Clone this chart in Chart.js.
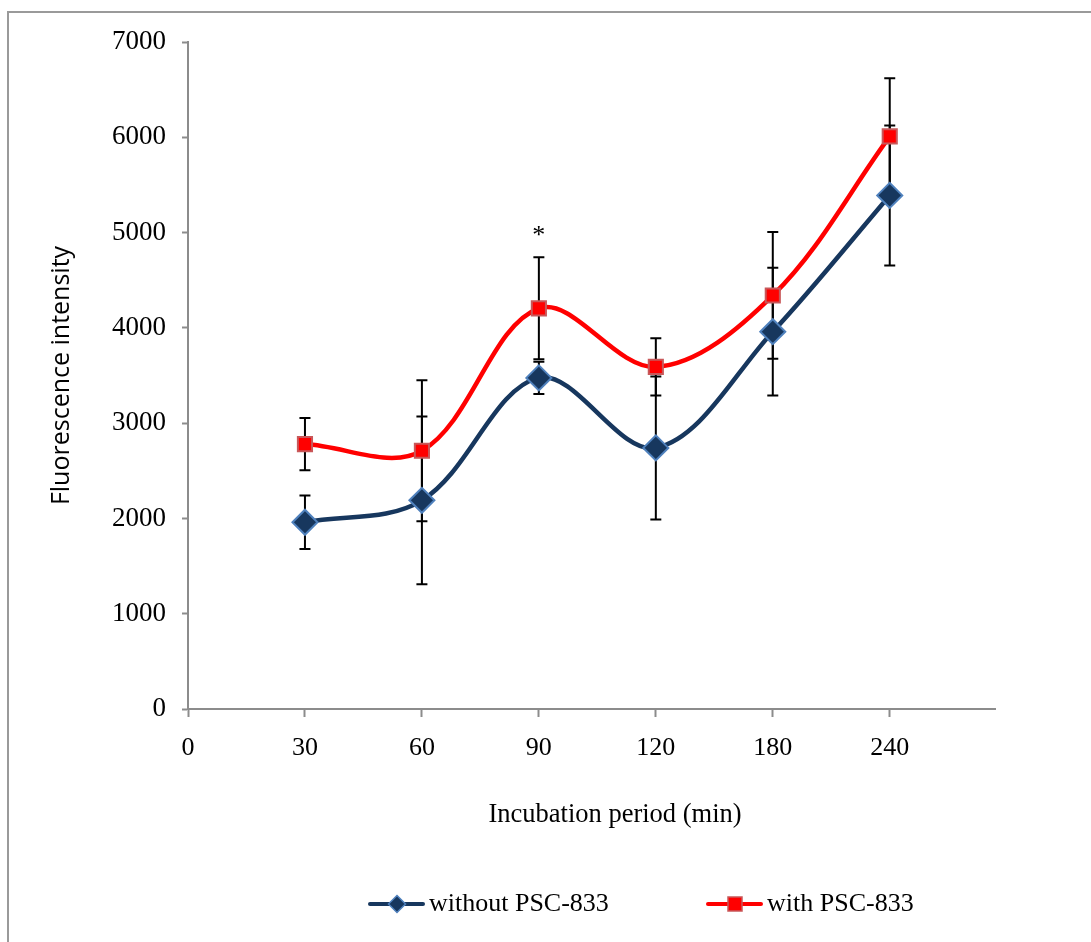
<!DOCTYPE html>
<html>
<head>
<meta charset="utf-8">
<script src="https://cdn.jsdelivr.net/npm/chart.js@4.4.0/dist/chart.umd.min.js"></script>
<style>
  html, body { margin: 0; padding: 0; background: #fff; }
  #wrap { position: relative; width: 1091px; height: 942px; overflow: hidden; }
  #frame { position: absolute; left: 7px; top: 11px; right: -4px; bottom: -4px; border-top: 2px solid #9a9a9a; border-left: 2px solid #9a9a9a; }
  canvas { position: absolute; left: 0; top: 0; }
</style>
</head>
<body>
<div id="wrap">
  <div id="frame"></div>
  <canvas id="chart" width="1091" height="942"></canvas>
</div>
<script>
// x tick labels (index = position on the axis)
const tickLabels = ['0', '30', '60', '90', '120', '180', '240'];
// incubation periods that have data
const periods = ['30', '60', '90', '120', '180', '240'];

const withoutPsc = [1960, 2190, 3475, 2740, 3960, 5390];
const withoutPscErr = [280, 880, 170, 750, 670, 735];
const withPsc = [2780, 2710, 4205, 3590, 4340, 6010];
const withPscErr = [275, 740, 535, 300, 665, 610];

// significance mark
const starPeriod = '90';
const starValue = 4965;

const serif = 'Liberation Serif';

function toPoints(values) {
  return values.map((v, i) => ({ x: tickLabels.indexOf(periods[i]), y: v }));
}

// Error bars, drawn under the lines and markers
const errorBarPlugin = {
  id: 'errorBars',
  beforeDatasetsDraw: (chart) => {
    const ctx = chart.ctx;
    const xScale = chart.scales.x;
    const yScale = chart.scales.y;
    ctx.save();
    ctx.strokeStyle = '#000';
    ctx.lineWidth = 2;
    chart.data.datasets.forEach(ds => {
      ds.data.forEach((pt, i) => {
        const err = ds.errors[i];
        const x = xScale.getPixelForValue(pt.x);
        const yTop = yScale.getPixelForValue(pt.y + err);
        const yBot = yScale.getPixelForValue(pt.y - err);
        ctx.beginPath();
        ctx.moveTo(x, yTop);
        ctx.lineTo(x, yBot);
        ctx.moveTo(x - 5.5, yTop);
        ctx.lineTo(x + 5.5, yTop);
        ctx.moveTo(x - 5.5, yBot);
        ctx.lineTo(x + 5.5, yBot);
        ctx.stroke();
      });
    });
    ctx.restore();
  }
};

// Asterisk, x axis title and the line+marker legend
const extrasPlugin = {
  id: 'extras',
  afterDraw: (chart) => {
    const ctx = chart.ctx;
    const xScale = chart.scales.x;
    const yScale = chart.scales.y;
    ctx.save();
    ctx.fillStyle = '#000';
    ctx.textAlign = 'center';
    ctx.textBaseline = 'middle';

    ctx.font = '26px "' + serif + '"';
    ctx.fillText('*', xScale.getPixelForValue(tickLabels.indexOf(starPeriod)), yScale.getPixelForValue(starValue));

    ctx.font = '26.5px "' + serif + '"';
    ctx.fillText('Incubation period (min)', 615, 815);

    // legend
    const legendX = [370, 708];
    const legendY = 904;
    chart.data.datasets.forEach((ds, i) => {
      const x0 = legendX[i];
      ctx.beginPath();
      ctx.strokeStyle = ds.borderColor;
      ctx.lineWidth = 4;
      ctx.lineCap = 'round';
      ctx.moveTo(x0, legendY);
      ctx.lineTo(x0 + 53, legendY);
      ctx.stroke();

      const cx = x0 + 27;
      ctx.beginPath();
      if (ds.pointStyle === 'rectRot') {
        const r = 8.5;
        ctx.moveTo(cx, legendY - r);
        ctx.lineTo(cx + r, legendY);
        ctx.lineTo(cx, legendY + r);
        ctx.lineTo(cx - r, legendY);
        ctx.closePath();
      } else {
        ctx.rect(cx - 7, legendY - 7, 14, 14);
      }
      ctx.fillStyle = ds.pointBackgroundColor;
      ctx.fill();
      ctx.lineWidth = 1.5;
      ctx.strokeStyle = ds.pointBorderColor;
      ctx.stroke();

      ctx.fillStyle = '#000';
      ctx.textAlign = 'left';
      ctx.font = '26px "' + serif + '"';
      ctx.fillText(ds.label, x0 + 59, legendY);
    });
    ctx.restore();
  }
};

const ctx = document.getElementById('chart').getContext('2d');
new Chart(ctx, {
  type: 'line',
  data: {
    datasets: [
      {
        label: 'without PSC-833',
        data: toPoints(withoutPsc),
        errors: withoutPscErr,
        borderColor: '#17375E',
        borderWidth: 4.5,
        tension: 0.35,
        fill: false,
        pointStyle: 'rectRot',
        pointRadius: 12.5,
        pointBackgroundColor: '#17375E',
        pointBorderColor: '#4F81BD',
        pointBorderWidth: 2
      },
      {
        label: 'with PSC-833',
        data: toPoints(withPsc),
        errors: withPscErr,
        borderColor: '#FF0000',
        borderWidth: 4.5,
        tension: 0.35,
        fill: false,
        pointStyle: 'rect',
        pointRadius: 10,
        pointBackgroundColor: '#FF0000',
        pointBorderColor: '#C8585A',
        pointBorderWidth: 2
      }
    ]
  },
  options: {
    responsive: false,
    animation: false,
    devicePixelRatio: 1,
    layout: { padding: { left: 40, right: 96, top: 42, bottom: 173 } },
    plugins: {
      legend: { display: false },
      tooltip: { enabled: false }
    },
    scales: {
      x: {
        type: 'linear',
        min: 0,
        max: 6.9,
        afterFit: (scale) => { scale.height = 60; },
        border: { color: '#8c8c8c', width: 2 },
        grid: { display: true, drawOnChartArea: false, tickLength: 8, tickColor: '#8c8c8c', tickWidth: 2 },
        ticks: {
          stepSize: 1,
          includeBounds: false,
          autoSkip: false,
          maxRotation: 0,
          padding: 16,
          color: '#000',
          font: { family: serif, size: 26 },
          callback: (v) => tickLabels[v] ?? ''
        }
      },
      y: {
        min: 0,
        max: 7000,
        afterFit: (scale) => { scale.width = 148; },
        border: { color: '#8c8c8c', width: 2 },
        grid: { display: true, drawOnChartArea: false, tickLength: 6, tickColor: '#8c8c8c', tickWidth: 2 },
        ticks: {
          stepSize: 1000,
          padding: 16,
          color: '#000',
          font: { family: serif, size: 27 },
          callback: (v) => String(v)
        },
        title: {
          display: true,
          text: 'Fluorescence intensity',
          color: '#000',
          font: { family: 'Open Sans', size: 25 },
          padding: { top: 7, bottom: 0 }
        }
      }
    }
  },
  plugins: [errorBarPlugin, extrasPlugin]
});
</script>
</body>
</html>
